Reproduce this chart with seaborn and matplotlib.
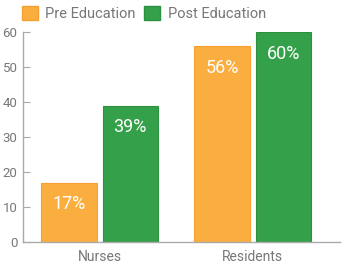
import matplotlib
matplotlib.use("Agg")
import matplotlib.pyplot as plt
import seaborn as sns
import pandas as pd
from matplotlib.patches import Patch

categories = ["Nurses", "Residents"]
series = ["Pre Education", "Post Education"]
pre_values = [17, 56]
post_values = [39, 60]
yticks = [0, 10, 20, 30, 40, 50, 60]

df = pd.DataFrame({
    "group": categories * 2,
    "series": [series[0]] * 2 + [series[1]] * 2,
    "value": pre_values + post_values,
})

sns.set_style("white")
plt.rcParams["font.family"] = ["Roboto", "DejaVu Sans"]

colors = ["#FBAE40", "#34A14A"]
edges = ["#F5A030", "#2C9040"]
grey = "#777777"

fig = plt.figure(figsize=(3.5, 2.76), dpi=100)
ax = fig.add_axes([0.066, 0.123, 0.905, 0.761])
sns.barplot(data=df, x="group", y="value", hue="series", palette=colors,
            width=0.8, gap=0.1, ax=ax, legend=False, saturation=1)

for i, cont in enumerate(ax.containers):
    for bar in cont:
        bar.set_edgecolor(edges[i])
        bar.set_linewidth(0.8)
    ax.bar_label(cont, labels=[f"{v:.0f}%" for v in cont.datavalues],
                 label_type="edge", padding=-22, color="white", fontsize=13)

ax.set_xlim(-0.5, 1.57)
ax.set_ylim(0, 60)
ax.set_yticks(yticks)
ax.set_xlabel("")
ax.set_ylabel("")
for s in ["top", "right"]:
    ax.spines[s].set_visible(False)
for s in ["left", "bottom"]:
    ax.spines[s].set_color("#aaaaaa")
    ax.spines[s].set_linewidth(1)
ax.tick_params(axis="y", left=True, direction="in", length=5, color="#aaaaaa",
               labelcolor=grey, labelsize=9.5, pad=4)
ax.tick_params(axis="x", bottom=False, labelcolor=grey, labelsize=10, pad=2)

handles = [Patch(facecolor=colors[i], edgecolor=edges[i], label=series[i]) for i in range(2)]
leg = fig.legend(handles=handles, loc="upper left", bbox_to_anchor=(0.025, 1.025), ncol=2,
                 frameon=False, fontsize=10.5, handlelength=1.1, handleheight=1.1,
                 handletextpad=0.5, columnspacing=0.6, labelcolor=grey)

fig.savefig("out.png", dpi=100)
